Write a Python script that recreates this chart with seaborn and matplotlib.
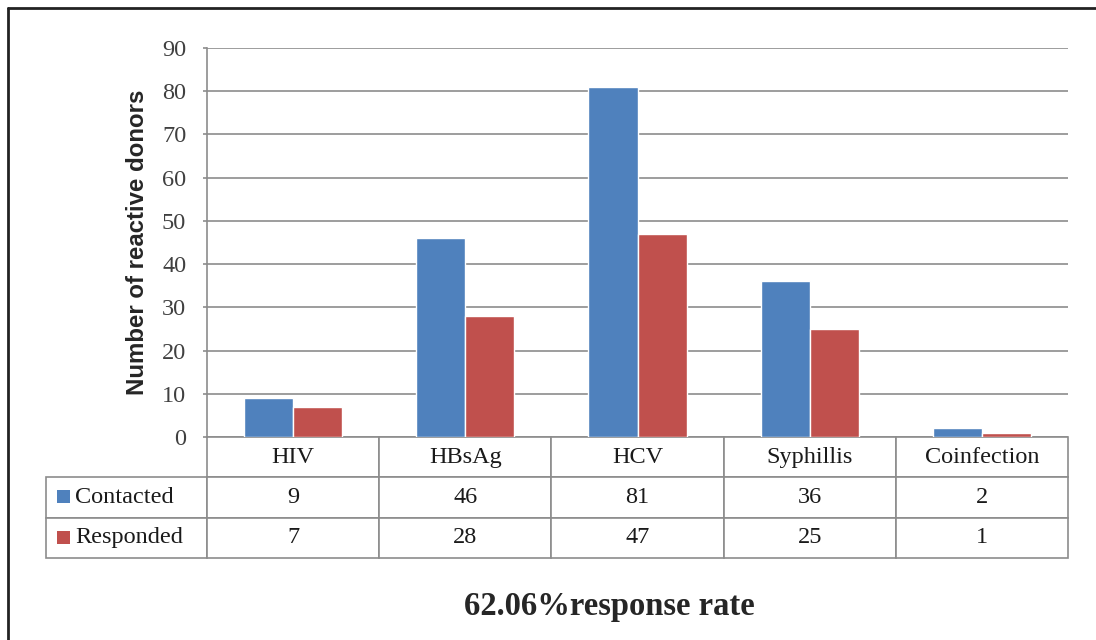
import pandas as pd
import matplotlib.pyplot as plt
import matplotlib.patches as mpatches
from matplotlib.lines import Line2D
import seaborn as sns

# Data
infections = ["HIV", "HBsAg", "HCV", "Syphillis", "Coinfection"]
contacted = [9, 46, 81, 36, 2]
responded = [7, 28, 47, 25, 1]
series_names = ["Contacted", "Responded"]
colors = ["#4F81BD", "#C0504D"]
yticks = list(range(0, 91, 10))
caption = "62.06%response rate"
ylabel = "Number of reactive donors"

df = pd.DataFrame({
    "infection": infections * 2,
    "series": [series_names[0]] * len(infections) + [series_names[1]] * len(infections),
    "count": contacted + responded,
})

sns.set_theme(style="white")
plt.rcParams["font.family"] = ["Liberation Serif", "DejaVu Serif"]

W, H = 1096, 640
fig = plt.figure(figsize=(W / 100, H / 100), dpi=100)
# plot area in pixels: x 207..1068, y 48..437
ax = fig.add_axes([207 / W, 1 - 437 / H, (1068 - 207) / W, (437 - 48) / H])

sns.barplot(data=df, x="infection", y="count", hue="series", order=infections,
            hue_order=series_names, palette=colors, width=0.57, saturation=1,
            ax=ax, legend=False)

ax.set_ylim(0, 90)
ax.set_yticks(yticks)
ax.yaxis.grid(True, color="#8C8C8C", linewidth=1.2)
ax.set_axisbelow(True)
for s in ["top", "right", "bottom"]:
    ax.spines[s].set_visible(False)
ax.spines["left"].set_color("#8C8C8C")
ax.spines["left"].set_linewidth(1.2)
ax.tick_params(axis="y", left=True, length=3, width=1.2, color="#8C8C8C",
               labelsize=17.5, labelcolor="#404040", pad=12)
ax.set_xticks([])
ax.set_xlabel("")
ax.set_ylabel(ylabel, family=["Liberation Sans", "DejaVu Sans"], fontweight="bold",
              fontsize=17.3, labelpad=9)

# data table below the axis
cell_text = [[""] + infections,
             [series_names[0]] + [str(v) for v in contacted],
             [series_names[1]] + [str(v) for v in responded]]
left = (46 - 207) / (1068 - 207)
width = (1068 - 46) / (1068 - 207)
bottom = -(558 - 437) / (437 - 48)
tbl = ax.table(cellText=cell_text, cellLoc="center",
               colWidths=[161] + [172.2] * len(infections),
               bbox=[left, bottom, width, -bottom])
tbl.auto_set_font_size(False)
for (r, c), cell in tbl.get_celld().items():
    cell.set_edgecolor("#8C8C8C")
    cell.set_linewidth(1.2)
    cell.get_text().set_fontsize(17.5)
    cell.get_text().set_color("#1a1a1a")
    if c == 0:
        cell.get_text().set_ha("left")
        cell.PAD = 0.18
tbl[0, 0].visible_edges = ""

# legend keys in the row-label cells
for i, col in enumerate(colors):
    yc = -(496 + 41 * i - 437) / (437 - 48)
    ax.add_patch(mpatches.Rectangle(((57 - 207) / 861, yc - 6.5 / 389), 13 / 861, 13 / 389,
                                    transform=ax.transAxes, clip_on=False,
                                    facecolor=col, edgecolor="none"))

fig.text(609 / W, 1 - 606 / H, caption, ha="center", va="center",
         fontsize=23.5, fontweight="bold")

# outer frame (top and left edges visible)
fig.add_artist(Line2D([8 / W, 8 / W], [0, 1 - 8 / H], transform=fig.transFigure,
                      color="#222222", linewidth=2))
fig.add_artist(Line2D([8 / W, 1], [1 - 8 / H, 1 - 8 / H], transform=fig.transFigure,
                      color="#222222", linewidth=2))

fig.savefig("out.png", dpi=100)
